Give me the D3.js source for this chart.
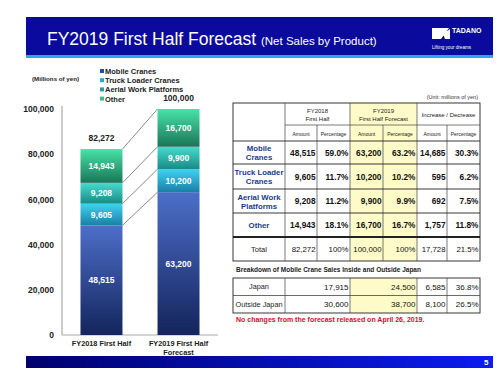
<!DOCTYPE html>
<html>
<head>
<meta charset="utf-8">
<script src="https://cdn.jsdelivr.net/npm/d3@7"></script>
<style>
  body { margin: 0; background: #fff; }
  svg { display: block; font-family: "Liberation Sans", Arial, sans-serif; }
</style>
</head>
<body>
<div id="chart"></div>
<script>
// chart data
var categories = ["FY2018 First Half", "FY2019 First Half Forecast"];
var seriesNames = ["Mobile Cranes", "Truck Loader Cranes", "Aerial Work Platforms", "Other"];
var mobileCranes = [48515, 63200];
var truckLoader = [9605, 10200];
var aerialWork = [9208, 9900];
var other = [14943, 16700];
var totals = [82272, 100000];
var yTicks = [0, 20000, 40000, 60000, 80000, 100000];

// table data
var tableRows = [
  ["Mobile\nCranes", "48,515", "59.0%", "63,200", "63.2%", "14,685", "30.3%"],
  ["Truck Loader\nCranes", "9,605", "11.7%", "10,200", "10.2%", "595", "6.2%"],
  ["Aerial Work\nPlatforms", "9,208", "11.2%", "9,900", "9.9%", "692", "7.5%"],
  ["Other", "14,943", "18.1%", "16,700", "16.7%", "1,757", "11.8%"],
  ["Total", "82,272", "100%", "100,000", "100%", "17,728", "21.5%"]
];
var japanRows = [
  ["Japan", "17,915", "24,500", "6,585", "36.8%"],
  ["Outside Japan", "30,600", "38,700", "8,100", "26.5%"]
];

var W = 500, H = 377;
var svg = d3.select("#chart").append("svg").attr("width", W).attr("height", H);
var defs = svg.append("defs");

function grad(id, top, bottom, horiz) {
  var g = defs.append("linearGradient").attr("id", id)
    .attr("x1", 0).attr("y1", 0).attr("x2", horiz ? 1 : 0).attr("y2", horiz ? 0 : 1);
  g.append("stop").attr("offset", "0%").attr("stop-color", top);
  g.append("stop").attr("offset", "100%").attr("stop-color", bottom);
}
var segColors = [
  ["#4d6fc9", "#14245c"],
  ["#3fd2f2", "#1a7fa6"],
  ["#45dccd", "#1a8a86"],
  ["#48e3a8", "#1a7558"]
];
segColors.forEach(function (c, i) { grad("seg" + i, c[0], c[1]); });
grad("footerGrad", "#00006e", "#0a1cf0", true);
var legendColors = ["#234c9c", "#2aa7cf", "#2a9f99", "#36c28c"];

// header
svg.append("rect").attr("x", 26).attr("y", 17).attr("width", 467).attr("height", 39).attr("fill", "#0a0a9c");
svg.append("rect").attr("x", 26).attr("y", 55).attr("width", 467).attr("height", 3).attr("fill", "#2aa8ee");
var title = svg.append("text").attr("x", 47).attr("y", 45).attr("fill", "#fff");
title.append("tspan").attr("font-size", 17.5).text("FY2019 First Half Forecast ");
title.append("tspan").attr("font-size", 11.5).text("(Net Sales by Product)");
// logo
svg.append("path").attr("d", "M432,28 L449,28 L441,39 L432,39 Z M443,34 L450,29 L450,39 L445,39 Z").attr("fill", "#fff");
svg.append("text").attr("x", 452).attr("y", 33).attr("fill", "#fff").attr("font-size", 7).attr("font-weight", "bold").text("TADANO");
svg.append("text").attr("x", 432).attr("y", 49).attr("fill", "#fff").attr("font-size", 4.6).text("Lifting  your  dreams");

// footer
svg.append("rect").attr("x", 26).attr("y", 356).attr("width", 467).attr("height", 12).attr("fill", "url(#footerGrad)");
svg.append("text").attr("x", 484).attr("y", 365).attr("fill", "#fff").attr("font-size", 8).attr("font-weight", "bold").text("5");

// chart
var y = d3.scaleLinear().domain([0, 100000]).range([335, 109]);
var x = d3.scaleBand().domain(categories).range([62, 218]).paddingInner(0.455).paddingOuter(0.24);

var yAxis = svg.append("g").attr("transform", "translate(62,0)")
  .call(d3.axisLeft(y).tickValues(yTicks).tickSize(0).tickPadding(8).tickFormat(d3.format(",")));
yAxis.select(".domain").attr("stroke", "#999").attr("d", "M0,106V335");
yAxis.selectAll("text").attr("font-size", 8.5).attr("font-weight", "bold").attr("fill", "#222")
  .attr("font-family", "Liberation Sans, Arial, sans-serif");
svg.append("line").attr("x1", 62).attr("x2", 218).attr("y1", 335).attr("y2", 335).attr("stroke", "#aaa");

var seriesData = [mobileCranes, truckLoader, aerialWork, other];
var stackRows = categories.map(function (c, i) {
  return { cat: c, s0: seriesData[0][i], s1: seriesData[1][i], s2: seriesData[2][i], s3: seriesData[3][i] };
});
var stacked = d3.stack().keys(["s0", "s1", "s2", "s3"])(stackRows);

stacked.forEach(function (layer, li) {
  var g = svg.append("g");
  g.selectAll("rect").data(layer).enter().append("rect")
    .attr("x", function (d) { return x(d.data.cat); })
    .attr("y", function (d) { return y(d[1]); })
    .attr("width", x.bandwidth())
    .attr("height", function (d) { return y(d[0]) - y(d[1]); })
    .attr("fill", "url(#seg" + li + ")");
  g.selectAll("text").data(layer).enter().append("text")
    .attr("x", function (d) { return x(d.data.cat) + x.bandwidth() / 2; })
    .attr("y", function (d) { return (y(d[0]) + y(d[1])) / 2 + 3; })
    .attr("text-anchor", "middle").attr("fill", "#fff").attr("font-size", 8.5).attr("font-weight", "bold")
    .text(function (d) { return d3.format(",")(d[1] - d[0]); });
  // connectors between the bars
  svg.append("line")
    .attr("x1", x(categories[0]) + x.bandwidth()).attr("y1", y(layer[0][1]))
    .attr("x2", x(categories[1])).attr("y2", y(layer[1][1]))
    .attr("stroke", "#555").attr("stroke-width", 0.7);
});

svg.selectAll(".total").data(totals).enter().append("text")
  .attr("x", function (d, i) { return x(categories[i]) + x.bandwidth() / 2; })
  .attr("y", function (d) { return y(d) - 8; })
  .attr("text-anchor", "middle").attr("font-size", 8.5).attr("font-weight", "bold").attr("fill", "#222")
  .text(d3.format(","));

// category labels
var catLines = [["FY2018 First Half"], ["FY2019 First Half", "Forecast"]];
catLines.forEach(function (lines, i) {
  lines.forEach(function (t, j) {
    svg.append("text").attr("x", x(categories[i]) + x.bandwidth() / 2).attr("y", 346 + j * 8.5)
      .attr("text-anchor", "middle").attr("font-size", 7.3).attr("font-weight", "bold").attr("fill", "#222").text(t);
  });
});

// legend
seriesNames.forEach(function (n, i) {
  svg.append("rect").attr("x", 100).attr("y", 69 + i * 9.2).attr("width", 4).attr("height", 4).attr("fill", legendColors[i]);
  svg.append("text").attr("x", 105).attr("y", 74 + i * 9.2).attr("font-size", 7.5).attr("font-weight", "bold")
    .attr("fill", "#222").text(n);
});
svg.append("text").attr("x", 32).attr("y", 81).attr("font-size", 6.2).attr("font-weight", "bold").attr("fill", "#222").text("(Millions of yen)");

// table
var cx = [233, 285, 317, 350, 383, 417, 447, 480];
var ry = [103, 125, 141, 164, 189, 213, 237, 261];
var t = svg.append("g");
t.append("text").attr("x", 478).attr("y", 99).attr("text-anchor", "end").attr("font-size", 5.5).attr("fill", "#333").text("(Unit: millions of yen)");
t.append("rect").attr("x", cx[3]).attr("y", ry[0]).attr("width", cx[5] - cx[3]).attr("height", ry[7] - ry[0]).attr("fill", "#fffbc8");
t.append("rect").attr("x", cx[0]).attr("y", ry[0]).attr("width", cx[7] - cx[0]).attr("height", ry[7] - ry[0])
  .attr("fill", "none").attr("stroke", "#222").attr("stroke-width", 0.9);
// vertical lines
[1, 3, 5].forEach(function (c) {
  t.append("line").attr("x1", cx[c]).attr("x2", cx[c]).attr("y1", ry[0]).attr("y2", ry[7]).attr("stroke", "#444").attr("stroke-width", 0.7);
});
[2, 4, 6].forEach(function (c) {
  t.append("line").attr("x1", cx[c]).attr("x2", cx[c]).attr("y1", ry[1]).attr("y2", ry[7]).attr("stroke", "#444").attr("stroke-width", 0.7);
});
t.append("line").attr("x1", cx[1]).attr("x2", cx[7]).attr("y1", ry[1]).attr("y2", ry[1]).attr("stroke", "#444").attr("stroke-width", 0.7);
for (var r = 2; r < 7; r++) {
  t.append("line").attr("x1", cx[0]).attr("x2", cx[7]).attr("y1", ry[r]).attr("y2", ry[r])
    .attr("stroke", "#222").attr("stroke-width", r === 6 ? 2 : 0.9);
}
var hdr = [["FY2018", "First Half"], ["FY2019", "First Half Forecast"], ["Increase / Decrease"]];
hdr.forEach(function (lines, i) {
  var mid = (cx[1 + i * 2] + cx[3 + i * 2]) / 2;
  lines.forEach(function (s, j) {
    t.append("text").attr("x", mid).attr("y", (lines.length === 1 ? 117 : 113 + j * 8))
      .attr("text-anchor", "middle").attr("font-size", 6).attr("fill", "#222").text(s);
  });
});
for (var c = 1; c < 7; c++) {
  t.append("text").attr("x", (cx[c] + cx[c + 1]) / 2).attr("y", 135.5).attr("text-anchor", "middle")
    .attr("font-size", 5).attr("fill", "#222").text(c % 2 ? "Amount" : "Percentage");
}
tableRows.forEach(function (row, i) {
  var top = ry[i + 2], bot = ry[i + 3], mid = (top + bot) / 2;
  var isTotal = row[0] === "Total";
  var lbl = row[0].split("\n");
  lbl.forEach(function (s, j) {
    t.append("text").attr("x", (cx[0] + cx[1]) / 2).attr("y", mid + 3 + (j - (lbl.length - 1) / 2) * 9)
      .attr("text-anchor", "middle").attr("font-size", isTotal ? 7.5 : 7.8).attr("font-weight", isTotal ? "normal" : "bold")
      .attr("fill", isTotal ? "#222" : "#1c3a8a").text(s);
  });
  row.slice(1).forEach(function (v, k) {
    t.append("text").attr("x", cx[k + 2] - 1.5).attr("y", mid + 3.2).attr("text-anchor", "end")
      .attr("font-size", isTotal ? 7.8 : 8.3).attr("font-weight", isTotal ? "normal" : "bold").attr("fill", "#111").text(v);
  });
});

// breakdown table
t.append("text").attr("x", 236).attr("y", 272).attr("font-size", 6.5).attr("font-weight", "bold").attr("fill", "#222")
  .text("Breakdown of Mobile Crane Sales Inside and Outside Japan");
var jx = [233, 285, 350, 417, 447, 480];
var jy = [278, 295.5, 313];
t.append("rect").attr("x", jx[2]).attr("y", jy[0]).attr("width", jx[3] - jx[2]).attr("height", jy[2] - jy[0]).attr("fill", "#fffbc8");
t.append("rect").attr("x", jx[0]).attr("y", jy[0]).attr("width", jx[5] - jx[0]).attr("height", jy[2] - jy[0])
  .attr("fill", "none").attr("stroke", "#222").attr("stroke-width", 0.9);
jx.slice(1, 5).forEach(function (xx) {
  t.append("line").attr("x1", xx).attr("x2", xx).attr("y1", jy[0]).attr("y2", jy[2]).attr("stroke", "#444").attr("stroke-width", 0.7);
});
t.append("line").attr("x1", jx[0]).attr("x2", jx[5]).attr("y1", jy[1]).attr("y2", jy[1]).attr("stroke", "#444").attr("stroke-width", 0.8);
japanRows.forEach(function (row, i) {
  var mid = (jy[i] + jy[i + 1]) / 2;
  t.append("text").attr("x", (jx[0] + jx[1]) / 2).attr("y", mid + 2.7).attr("text-anchor", "middle")
    .attr("font-size", 7.3).attr("fill", "#222").text(row[0]);
  row.slice(1).forEach(function (v, k) {
    t.append("text").attr("x", jx[k + 2] - 1.5).attr("y", mid + 3).attr("text-anchor", "end")
      .attr("font-size", 8).attr("fill", "#111").text(v);
  });
});
t.append("text").attr("x", 236).attr("y", 322).attr("font-size", 7).attr("font-weight", "bold").attr("fill", "#c8102e")
  .text("No changes from the forecast released on April 26, 2019.");
</script>
</body>
</html>
